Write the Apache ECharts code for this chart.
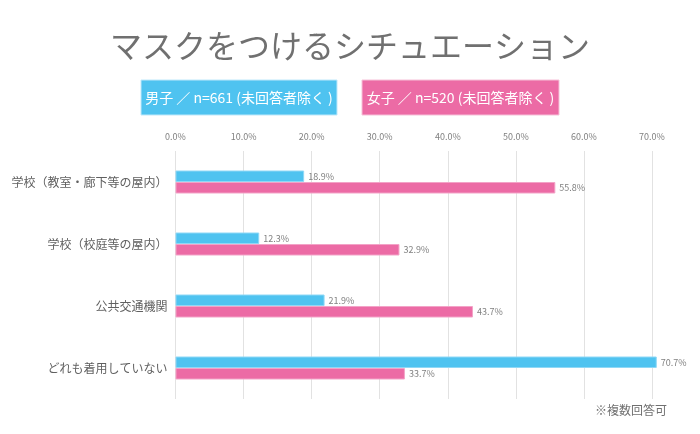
<!DOCTYPE html>
<html><head><meta charset="utf-8">
<script src="https://cdn.jsdelivr.net/npm/echarts@6/dist/echarts.min.js"></script>
<style>html,body{margin:0;padding:0;background:#fff;}#c{width:700px;height:434px;}</style>
</head><body><div id="c"></div>
<script>
var categories = ['学校（教室・廊下等の屋内）', '学校（校庭等の屋内）', '公共交通機関', 'どれも着用していない'];
var maleValues = [18.9, 12.3, 21.9, 70.7];
var femaleValues = [55.8, 32.9, 43.7, 33.7];
var maleName = '男子 ／ n=661 (未回答者除く )';
var femaleName = '女子 ／ n=520 (未回答者除く )';
var titleText = 'マスクをつけるシチュエーション';
var noteText = '※複数回答可';

var FONT = '"Noto Sans CJK JP", "Noto Sans", sans-serif';
var BLUE = '#4FC3F0', PINK = '#EC6BA5';
var chart = echarts.init(document.getElementById('c'), null, {renderer: 'canvas'});
function lbl(p){ return p.value.toFixed(1) + '%'; }
chart.setOption({
  backgroundColor: '#fff',
  animation: false,
  textStyle: {fontFamily: FONT},
  title: {text: titleText, left: 'center', top: 25, textStyle: {fontSize: 32, fontWeight: 'normal', color: '#707070', fontFamily: FONT}},
  grid: {left: 175.5, right: 48, top: 151, bottom: 35, containLabel: false},
  xAxis: {
    type: 'value', position: 'top', min: 0, max: 70, interval: 10,
    axisLine: {show: false}, axisTick: {show: false},
    axisLabel: {formatter: function(v){return v.toFixed(1) + '%';}, fontSize: 9, color: '#808080', margin: 10, fontFamily: FONT},
    splitLine: {lineStyle: {color: '#e2e2e2', width: 1}}
  },
  yAxis: {
    type: 'category', data: categories, inverse: true,
    axisLine: {show: false}, axisTick: {show: false},
    axisLabel: {fontSize: 12, color: '#606060', margin: 8, fontFamily: FONT},
    splitLine: {show: false}
  },
  series: [
    {name: maleName, type: 'bar', data: maleValues, barWidth: 11.5, barGap: '0%', clip: false,
     itemStyle: {color: BLUE, borderColor: '#8fd8f6', borderWidth: 1},
     label: {show: true, position: 'right', formatter: lbl, fontSize: 9, color: '#808080', distance: 4, fontFamily: FONT}},
    {name: femaleName, type: 'bar', data: femaleValues, barWidth: 11.5, clip: false,
     itemStyle: {color: PINK, borderColor: '#f3a3c7', borderWidth: 1},
     label: {show: true, position: 'right', formatter: lbl, fontSize: 9, color: '#808080', distance: 4, fontFamily: FONT}}
  ],
  graphic: [
    {type: 'rect', shape: {x: 141, y: 80, width: 196, height: 35}, style: {fill: BLUE, stroke: '#bfe8fa', lineWidth: 1}},
    {type: 'text', x: 239, y: 97.5, style: {text: maleName, fill: '#fff', font: '14px ' + FONT, textAlign: 'center', textVerticalAlign: 'middle'}},
    {type: 'rect', shape: {x: 362, y: 80, width: 197, height: 35}, style: {fill: PINK, stroke: '#f6c1d8', lineWidth: 1}},
    {type: 'text', x: 460.5, y: 97.5, style: {text: femaleName, fill: '#fff', font: '14px ' + FONT, textAlign: 'center', textVerticalAlign: 'middle'}},
    {type: 'text', right: 33, top: 404, style: {text: noteText, fill: '#707070', font: '12px ' + FONT}}
  ]
});
</script></body></html>
